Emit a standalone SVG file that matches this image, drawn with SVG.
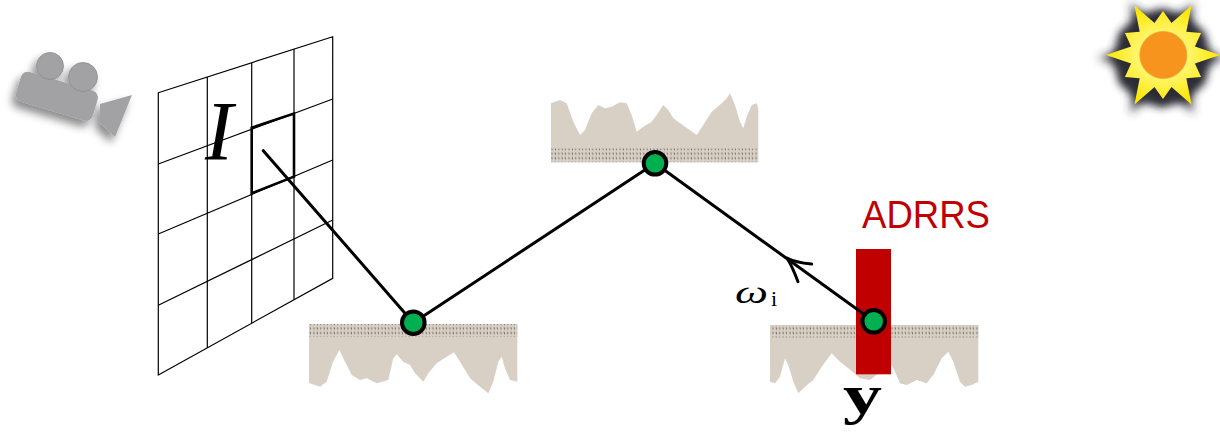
<svg xmlns="http://www.w3.org/2000/svg" width="1220" height="433" viewBox="0 0 1220 433">
  <defs>
    <style>
      .grid { fill: none; stroke: #000; stroke-width: 1.2; }
      .cell { fill: none; stroke: #000; stroke-width: 2.6; stroke-linejoin: miter; }
      .ground { fill: #d8d0c5; }
      .crust { fill: url(#hatch); }
      .ray { fill: none; stroke: #000; stroke-width: 3; stroke-linecap: round; stroke-linejoin: round; }
      .vertex { fill: #00b050; stroke: #000; stroke-width: 4; }
      .serif { font-family: "Liberation Serif", "DejaVu Serif", serif; fill: #000; }
      .tag { font-family: "Liberation Sans", "Open Sans", sans-serif; fill: #c00000; }
    </style>
    <pattern id="hatch" width="3.4" height="4.6" patternUnits="userSpaceOnUse">
      <rect width="3.4" height="4.6" fill="#d8d0c5"/>
      <line x1="0.9" y1="0.6" x2="1.3" y2="3" stroke="#5a5249" stroke-width="0.8"/>
    </pattern>
    <radialGradient id="sunGlow" cx="0.5" cy="0.5" r="0.5">
      <stop offset="0" stop-color="#ffffb0"/>
      <stop offset="0.55" stop-color="#fff35a"/>
      <stop offset="1" stop-color="#ffe600"/>
    </radialGradient>
    <filter id="camShadow" x="-40%" y="-40%" width="180%" height="190%">
      <feGaussianBlur in="SourceAlpha" stdDeviation="4"/>
      <feOffset dx="-4" dy="6" result="b"/>
      <feFlood flood-color="#000" flood-opacity="0.45"/>
      <feComposite in2="b" operator="in"/>
      <feMerge><feMergeNode/><feMergeNode in="SourceGraphic"/></feMerge>
    </filter>
    <filter id="haze" x="-30%" y="-30%" width="160%" height="160%">
      <feGaussianBlur stdDeviation="4.5"/>
    </filter>
    <polygon id="star" points="1163,11 1171.5,23.1 1191.5,5.6 1186.3,31.7 1201.1,33 1194.9,46.5 1220,55 1194.9,63.5 1201.1,77 1186.3,78.3 1191.5,104.4 1171.5,86.9 1163,99 1154.5,86.9 1134.5,104.4 1139.7,78.3 1124.9,77 1131.1,63.5 1106,55 1131.1,46.5 1124.9,33 1139.7,31.7 1134.5,5.6 1154.5,23.1"/>
  </defs>

  <!-- camera icon -->
  <g id="camera" filter="url(#camShadow)" fill="#a2a2a4">
    <rect x="23" y="70" width="80" height="31" rx="7" transform="rotate(16.6 23 70)"/>
    <circle cx="50" cy="66" r="13.5" stroke="#8c8c8e" stroke-width="0.8"/>
    <circle cx="83" cy="77" r="14.5" stroke="#8c8c8e" stroke-width="0.8"/>
    <polygon points="100,104 132,95 115,137 99,122"/>
  </g>

  <!-- sun icon -->
  <g id="sun">
    <circle cx="1162" cy="58" r="48" fill="#30303a" filter="url(#haze)"/>
    <use href="#star" fill="#2c2c36" filter="url(#haze)" transform="translate(1162 58) scale(1.12) translate(-1163 -55)"/>
    <use href="#star" fill="url(#sunGlow)"/>
    <circle cx="1163.3" cy="55" r="23.5" fill="#f7941d" stroke="#f0a030" stroke-width="0.8"/>
  </g>

  <!-- image plane: 4x4 pixel grid in perspective -->
  <g id="image-plane">
    <polygon class="grid" points="158.3,92.7 332.7,36.7 332.7,278.3 158.3,375"/>
    <line class="grid" x1="207.3" y1="77" x2="207.3" y2="347.8"/>
    <line class="grid" x1="251.7" y1="62.8" x2="251.7" y2="323.2"/>
    <line class="grid" x1="294" y1="49.1" x2="294" y2="299.8"/>
    <line class="grid" x1="158.3" y1="164" x2="332.7" y2="99"/>
    <line class="grid" x1="158.3" y1="234" x2="332.7" y2="160"/>
    <line class="grid" x1="158.3" y1="305.3" x2="332.7" y2="220"/>
    <polygon class="cell" points="251.7,127.7 294,113.5 294,176.7 251.7,193.3"/>
    <text class="serif" x="205" y="160" font-size="84" font-style="italic">I</text>
  </g>

  <!-- rough surfaces -->
  <g id="surface-1">
    <path class="ground" d="M309,324 L517.3,324 L517.3,381.7 L510,380 L505,368.3 L501.7,356.7 L498.3,361.7 L493.3,381.7 L488.3,393.3 L480,386.7 L470,378.3 L460,361.7 L454,352.3 L446.7,356.7 L436.7,363.3 L428.3,373.3 L423.3,381.7 L415,373.3 L410,365 L403.3,361.7 L396.7,354.3 L393.3,358.3 L388.3,380 L376.7,383.3 L366.7,378.3 L360,380 L351.7,375 L345,361.7 L339.3,350 L333,361.7 L326.7,381.7 L320,386.7 L309,383 Z"/>
    <rect class="crust" x="309" y="324" width="208.3" height="13"/>
  </g>
  <g id="surface-2">
    <path class="ground" d="M551,149 L551,103.3 L560,100 L566.7,103.3 L573.3,121.7 L580,135 L585,130 L591.7,113.3 L598.3,105 L605,108.3 L611.7,106.7 L620,102.3 L626.7,103.3 L631.7,115 L636.7,131.7 L643.3,126.7 L651.7,121.7 L656.7,115 L663.3,105 L668.3,110 L673.3,118.3 L685,126.7 L696.7,135 L703.3,125 L711.7,111.7 L721.7,103.3 L726.7,98.3 L730,93.3 L735,105 L740,121.7 L743.3,128.3 L746.7,116.7 L751.7,105 L756.7,103.3 L758.3,108.3 L758.3,149 Z"/>
    <rect class="crust" x="551" y="148.5" width="207.3" height="13.8"/>
  </g>
  <g id="surface-3">
    <path class="ground" d="M770,325 L978.3,325 L978.3,381.7 L971.7,385 L965,386.7 L960,381.7 L953.3,361.7 L948.3,351.7 L941.7,358.3 L933.3,375 L926.7,383.3 L916.7,380 L906.7,385 L900,383.3 L895,371.7 L891.7,365 L880,372 L870,380 L860,378.3 L848.3,368.3 L840,361.7 L831.7,353.3 L821.7,366.7 L813.3,380 L805,386.7 L798.3,393.3 L793.3,381.7 L788.3,365 L785,358.3 L780,376.7 L775,383.3 L770,381.7 Z"/>
    <rect class="crust" x="770" y="325" width="208.3" height="12.5"/>
  </g>

  <!-- ADRRS region at the last vertex -->
  <g id="adrrs">
    <rect x="856" y="249" width="35" height="125.3" fill="#c00000"/>
    <text class="tag" x="862" y="228" font-size="38" textLength="128" lengthAdjust="spacingAndGlyphs">ADRRS</text>
  </g>

  <!-- light path -->
  <g id="connectors">
    <polyline class="ray" points="263.3,150.7 413.3,322.7 655,163.3 873.7,321.3"/>
    <path class="ray" d="M811.7,264 Q795,262.5 787,258 Q792.5,267 798,281.7"/>
  </g>

  <!-- path vertices -->
  <g id="vertex-1"><circle class="vertex" cx="413.3" cy="322.7" r="11.3"/></g>
  <g id="vertex-2"><circle class="vertex" cx="655" cy="163.3" r="11.3"/></g>
  <g id="vertex-3"><circle class="vertex" cx="873.7" cy="321.3" r="11.3"/></g>

  <!-- labels -->
  <g id="label-omega">
    <text class="serif" x="735" y="303" font-size="32" font-style="italic" textLength="33" lengthAdjust="spacingAndGlyphs">ω</text>
    <text class="serif" x="771" y="306" font-size="22">i</text>
  </g>
  <g id="label-y">
    <rect x="840" y="383" width="47" height="44" fill="#fff"/>
    <text class="serif" x="843" y="413" font-size="54" font-weight="bold" textLength="39" lengthAdjust="spacingAndGlyphs">y</text>
  </g>
</svg>
